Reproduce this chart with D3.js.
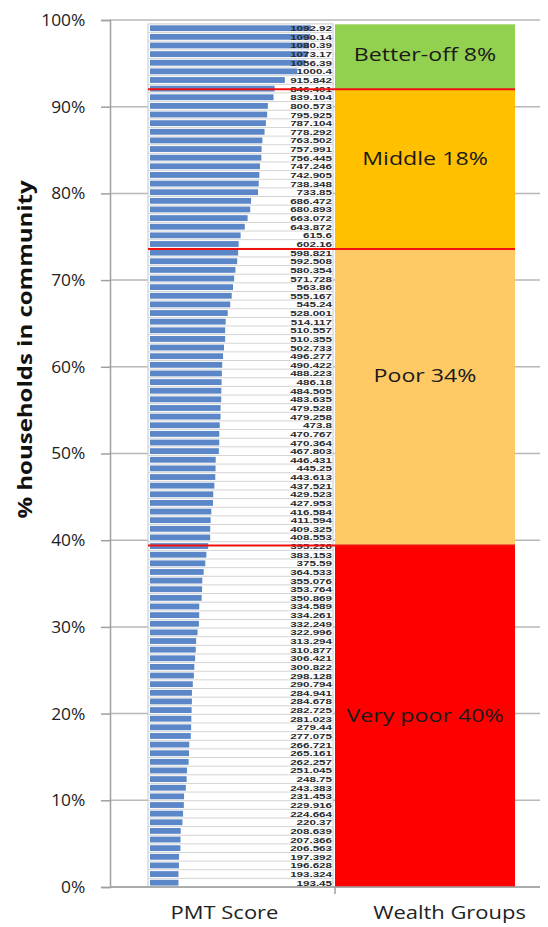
<!DOCTYPE html>
<html>
<head>
<meta charset="utf-8">
<script src="https://cdn.jsdelivr.net/npm/d3@7"></script>
<style>
  html, body { margin: 0; padding: 0; background: #fff; }
  svg { display: block; }
</style>
</head>
<body>
<svg id="chart" width="548" height="927"></svg>
<script>
// ---- data ----
const pmtScores = [
  1092.92, 1090.14, 1080.39, 1073.17, 1056.39, 1000.4, 915.842, 846.401, 839.104, 800.573,
  795.925, 787.104, 778.292, 763.502, 757.991, 756.445, 747.246, 742.905, 738.348, 733.85,
  686.472, 680.893, 663.072, 643.872, 615.6, 602.16, 598.821, 592.508, 580.354, 571.728,
  563.86, 555.167, 545.24, 528.001, 514.117, 510.557, 510.355, 502.733, 496.277, 490.422,
  488.223, 486.18, 484.505, 483.635, 479.528, 479.258, 473.8, 470.767, 470.364, 467.803,
  446.431, 445.25, 443.613, 437.521, 429.523, 427.953, 416.584, 411.594, 409.325, 408.553,
  395.226, 383.153, 375.59, 364.533, 355.076, 353.764, 350.869, 334.589, 334.261, 332.249,
  322.996, 313.294, 310.877, 306.421, 300.822, 298.128, 290.794, 284.941, 284.678, 282.725,
  281.023, 279.44, 277.075, 266.721, 265.161, 262.257, 251.045, 248.75, 243.383, 231.453,
  229.916, 224.664, 220.37, 208.639, 207.366, 206.563, 197.392, 196.628, 193.324, 193.45
];
const groupNames = ["Better-off 8%", "Middle 18%", "Poor 34%", "Very poor 40%"];
const groupColors = ["#92D050", "#FFC000", "#FFCA66", "#FF0000"];
const groupTop = [99.5, 92, 73.6, 39.4];      // % households (upper edge)
const groupBottom = [92, 73.6, 39.4, 0];     // % households (lower edge)
const groupLabelLevel = [96, 84, 59, 19.8];  // % level of group label
const cutLines = [92, 73.6, 39.4];
const yTicks = [0, 10, 20, 30, 40, 50, 60, 70, 80, 90, 100];
const xCategories = ["PMT Score", "Wealth Groups"];

// ---- layout ----
const svg = d3.select("#chart");
const font = "'Open Sans', 'Noto Sans', sans-serif";
const y = d3.scaleLinear().domain([0, 100]).range([887, 20]);
const xCat = d3.scaleBand().domain(xCategories).range([112, 562]);
const axisX = 110, gridRight = 540;

// gridlines
svg.append("g").selectAll("line").data(yTicks).join("line")
  .attr("x1", axisX).attr("x2", gridRight)
  .attr("y1", d => y(d)).attr("y2", d => y(d))
  .attr("stroke", "#b8b8b8").attr("stroke-width", 1.5);

// y axis
const yAxis = d3.axisLeft(y).tickValues(yTicks).tickFormat(d => d + "%").tickSize(9).tickPadding(13);
const gy = svg.append("g").attr("transform", `translate(${axisX},0)`).call(yAxis);
gy.select(".domain").attr("stroke", "#a0a0a0").attr("stroke-width", 1.5);
gy.selectAll(".tick line").attr("stroke", "#a0a0a0").attr("stroke-width", 1.5);
gy.selectAll(".tick text").attr("font-family", font).attr("font-size", 15.5)
  .attr("fill", "#222").attr("dy", "0.35em")
  .attr("transform", "scale(1.12,1)");

// y title
svg.append("text")
  .attr("transform", `translate(32,${y(62)}) rotate(-90) scale(1.2,1)`)
  .attr("text-anchor", "middle")
  .attr("font-family", font).attr("font-weight", "bold").attr("font-size", 20)
  .attr("fill", "#111")
  .text("% households in community");

// ---- PMT table ----
const tableLeft = 148, tableRight = 333;
const rows = d3.scaleBand().domain(d3.range(pmtScores.length)).range([y(99.55), y(0)]);
const xBar = d3.scaleLinear().domain([0, 1250]).range([150, 334]);

const table = svg.append("g");
table.append("rect")
  .attr("x", tableLeft).attr("y", rows.range()[0])
  .attr("width", tableRight - tableLeft).attr("height", rows.range()[1] - rows.range()[0])
  .attr("fill", "#fff").attr("stroke", "#c8c8c8").attr("stroke-width", 1);

table.append("g").selectAll("line").data(d3.range(1, pmtScores.length)).join("line")
  .attr("x1", tableLeft).attr("x2", tableRight)
  .attr("y1", d => rows(d)).attr("y2", d => rows(d))
  .attr("stroke", "#d4d4d4").attr("stroke-width", 1);

table.append("g").selectAll("rect").data(pmtScores).join("rect")
  .attr("x", xBar(0))
  .attr("y", (d, i) => rows(i) + 1.4)
  .attr("width", d => xBar(d) - xBar(0))
  .attr("height", rows.bandwidth() - 2.8)
  .attr("fill", "#5B87C8");

table.append("g").selectAll("text").data(pmtScores).join("text")
  .attr("text-anchor", "end")
  .attr("transform", (d, i) => `translate(332,${rows(i) + rows.bandwidth() / 2 + 3}) scale(1.45,0.88)`)
  .attr("font-family", "'Liberation Sans', Arial, sans-serif").attr("font-size", 8)
  .attr("font-weight", "bold")
  .attr("fill", "#2a2a2a")
  .text(d => String(d));

// ---- wealth groups ----
const groups = groupNames.map((n, i) => ({ name: n, color: groupColors[i], top: groupTop[i], bottom: groupBottom[i], lab: groupLabelLevel[i] }));
const gx0 = 335, gx1 = 515;
svg.append("g").selectAll("rect").data(groups).join("rect")
  .attr("x", gx0).attr("width", gx1 - gx0)
  .attr("y", d => y(d.top)).attr("height", d => y(d.bottom) - y(d.top))
  .attr("fill", d => d.color);

svg.append("g").selectAll("text").data(groups).join("text")
  .attr("transform", d => `translate(${(gx0 + gx1) / 2},${y(d.lab)}) scale(1.22,1)`)
  .attr("dy", "0.35em").attr("text-anchor", "middle")
  .attr("font-family", font).attr("font-size", 19).attr("fill", "#1a1a1a")
  .text(d => d.name);

// red cut lines
svg.append("g").selectAll("line").data(cutLines).join("line")
  .attr("x1", tableLeft).attr("x2", gx1)
  .attr("y1", d => y(d)).attr("y2", d => y(d))
  .attr("stroke", "#F01010").attr("stroke-width", 2);

// x axis
svg.append("line").attr("x1", axisX).attr("x2", gridRight)
  .attr("y1", y(0)).attr("y2", y(0)).attr("stroke", "#a0a0a0").attr("stroke-width", 1.5);
svg.append("line").attr("x1", gx0).attr("x2", gx0)
  .attr("y1", y(0)).attr("y2", y(0) + 7).attr("stroke", "#a0a0a0").attr("stroke-width", 1.5);
svg.append("g").selectAll("text").data(xCategories).join("text")
  .attr("transform", d => `translate(${xCat(d) + xCat.bandwidth() / 2},919) scale(1.22,1)`)
  .attr("text-anchor", "middle")
  .attr("font-family", font).attr("font-size", 18).attr("fill", "#222")
  .text(d => d);
</script>
</body>
</html>
